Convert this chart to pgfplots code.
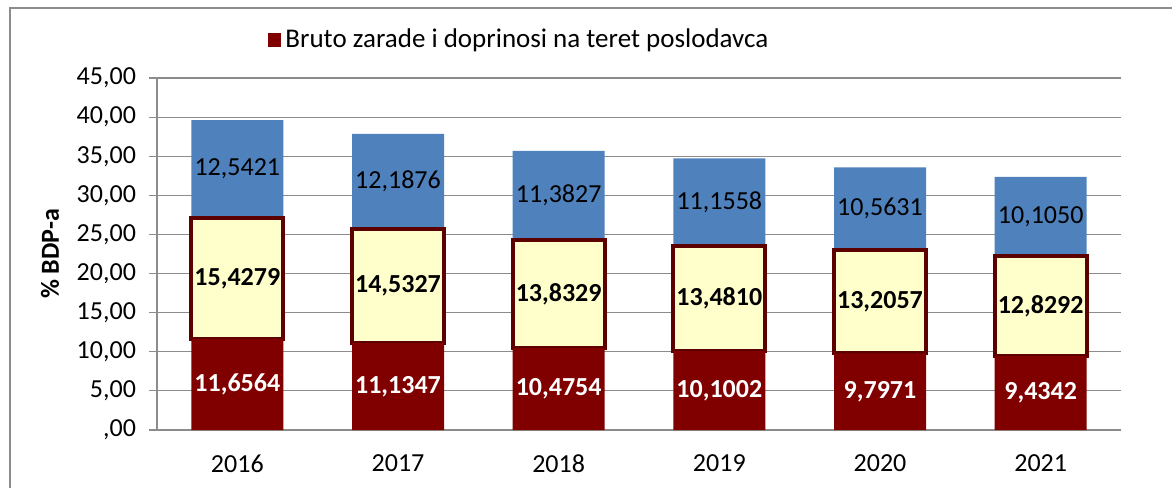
\documentclass[border=0pt]{standalone}
\usepackage{pgfplots}
\pgfplotsset{compat=1.18}
\usepackage{fontspec}
\setmainfont{Carlito}
\definecolor{bred}{HTML}{800000}
\definecolor{bblue}{HTML}{4F81BD}
\definecolor{byel}{HTML}{FFFFCC}
\definecolor{bedge}{HTML}{5C0000}
\definecolor{gridg}{HTML}{8C8C8C}
\begin{document}
\begin{tikzpicture}[font=\fontsize{13}{15}\selectfont]
\path[use as bounding box] (-78.5pt,-29pt) rectangle (507.5pt,215pt);
\draw[gridg, line width=0.6pt] (-73.5pt,-29pt) -- (-73.5pt,211pt) -- (507.5pt,211pt);
\begin{axis}[
    at={(0,0)}, anchor=south west,
    scale only axis, width=482pt, height=176pt,
    ybar stacked, bar width=46pt,
    xmin=-0.5, xmax=5.5, ymin=0, ymax=45,
    xtick=data, xticklabels={2016,2017,2018,2019,2020,2021},
    ytick={0,5,...,45},
    yticklabels={{,00},{5,00},{10,00},{15,00},{20,00},{25,00},{30,00},{35,00},{40,00},{45,00}},
    x tick style={draw=none},
    y tick style={gridg, line width=0.6pt},
    tick align=outside, major tick length=4pt,
    axis line style={gridg, line width=0.6pt},
    axis x line*=bottom, axis y line*=left,
    ymajorgrids, grid style={gridg, line width=0.6pt},
    ylabel={\bfseries\% BDP-a},
    ylabel style={yshift=2pt},
    yticklabel style={xshift=-3pt},
    xticklabel style={yshift=-5pt},
    point meta=explicit,
    /pgf/number format/.cd, use comma, fixed, fixed zerofill, precision=4, assume math mode=true,
    /pgfplots/.cd,
    % stacked labels come out centred in their segment with anchor=center
    every node near coord/.append style={anchor=center},
    legend entries={Bruto zarade i doprinosi na teret poslodavca},
    legend style={at={(0.115,1.108)}, anchor=west, draw=none, fill=none,
        font=\fontsize{13.5}{15}\selectfont, inner sep=0pt},
    legend image code/.code={\fill[bred] (0pt,-3.3pt) rectangle (6.6pt,3.3pt);},
]
\addplot[fill=bred, draw=none, nodes near coords,
    nodes near coords style={text=white, font=\fontsize{13}{15}\selectfont\bfseries}]
  coordinates {(0,11.6564) [11.6564] (1,11.1347) [11.1347] (2,10.4754) [10.4754]
               (3,10.1002) [10.1002] (4,9.7971) [9.7971] (5,9.4342) [9.4342]};
\addplot[fill=byel, draw=bedge, line width=2pt, nodes near coords,
    nodes near coords style={text=black, font=\fontsize{13}{15}\selectfont\bfseries}]
  coordinates {(0,15.4279) [15.4279] (1,14.5327) [14.5327] (2,13.8329) [13.8329]
               (3,13.4810) [13.4810] (4,13.2057) [13.2057] (5,12.8292) [12.8292]};
\addplot[fill=bblue, draw=none, nodes near coords,
    nodes near coords style={text=black, font=\fontsize{13}{15}\selectfont}]
  coordinates {(0,12.5421) [12.5421] (1,12.1876) [12.1876] (2,11.3827) [11.3827]
               (3,11.1558) [11.1558] (4,10.5631) [10.5631] (5,10.1050) [10.1050]};
\end{axis}
\end{tikzpicture}
\end{document}
